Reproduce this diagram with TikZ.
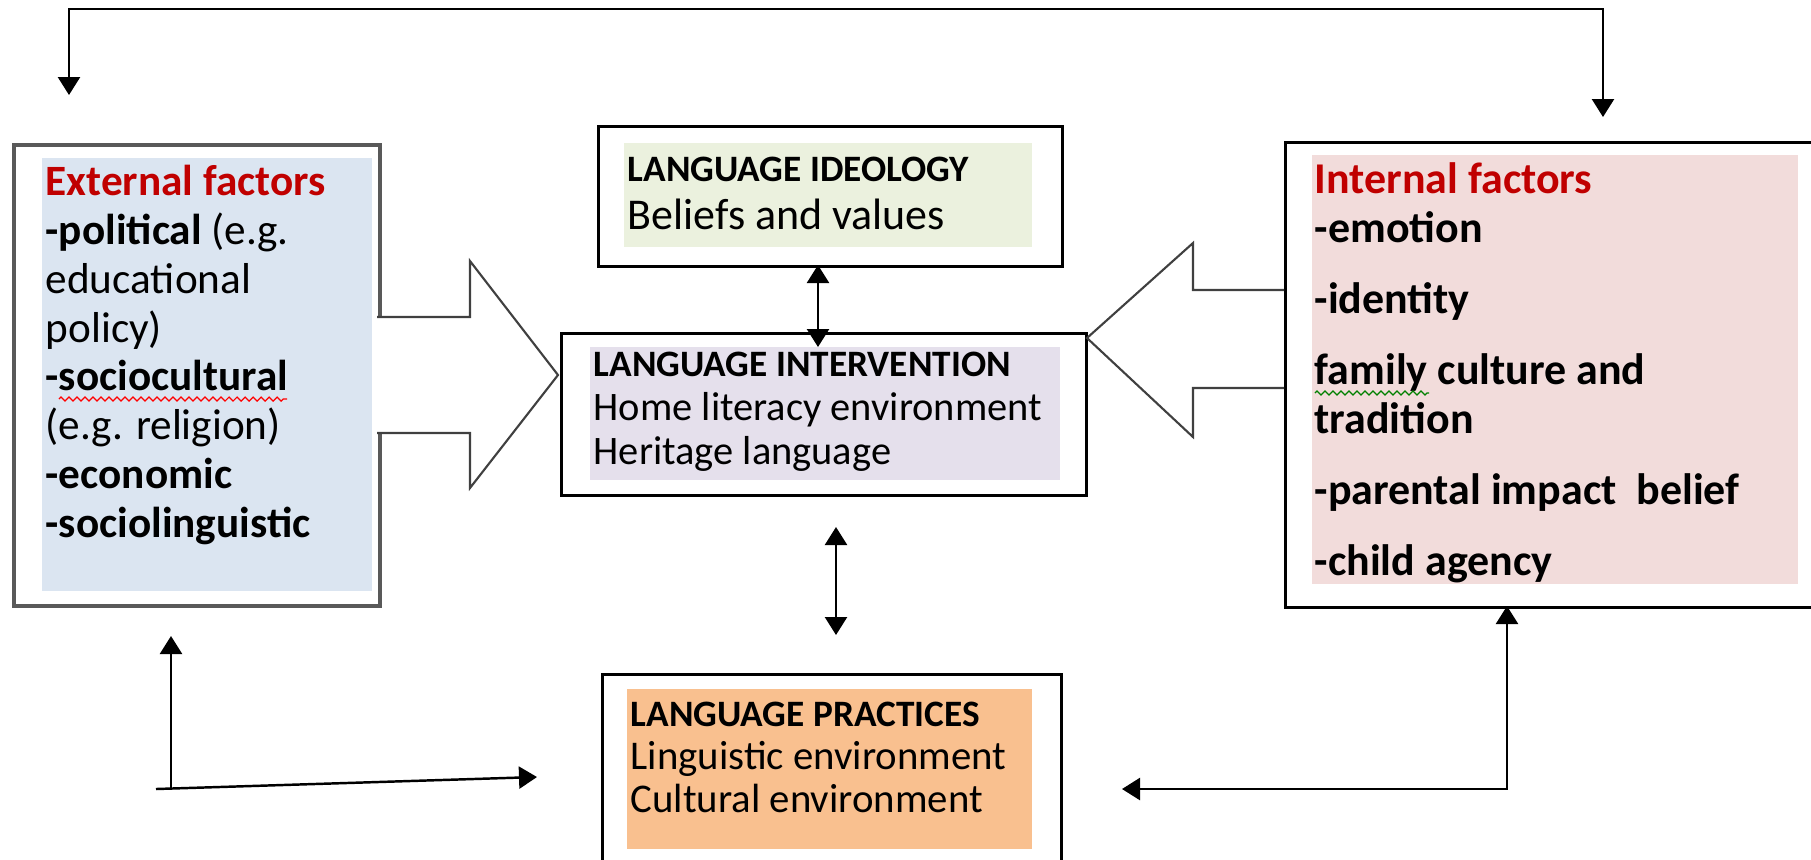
\documentclass[tikz,border=0pt]{standalone}
\usepackage{fontspec}
\setmainfont{Carlito}
\usepackage{xcolor}
\usetikzlibrary{arrows.meta}
\usetikzlibrary{decorations.pathmorphing}
\definecolor{extblue}{HTML}{DBE5F1}
\definecolor{ideogreen}{HTML}{EBF1DE}
\definecolor{intervlilac}{HTML}{E5E0EC}
\definecolor{pracorange}{HTML}{F9C08F}
\definecolor{intpink}{HTML}{F2DCDB}
\definecolor{titlered}{HTML}{C00000}
\tikzset{
frame/.style={draw=black, line width=0.9pt, anchor=north west, inner sep=0pt},
shadebox/.style={anchor=north west, inner sep=0pt},
labeltext/.style={anchor=base west, align=left, inner sep=0pt},
blockarrow/.style={draw=black!75, line width=0.6pt, line join=miter},
linkboth/.style={line width=0.7pt, {Triangle[length=1.8mm,width=2.2mm]}-{Triangle[length=1.8mm,width=2.2mm]}},
linkone/.style={line width=0.7pt, -{Triangle[length=1.8mm,width=2.2mm]}},
spell/.style={line width=0.35pt, decorate, decoration={zigzag, segment length=0.08cm, amplitude=0.02cm}}
}

\begin{document}
\begin{tikzpicture}[x=0.01cm, y=-0.01cm]
\useasboundingbox (0,0) rectangle (1811,859);
\clip (0,0) rectangle (1811,859);

% Coordinates
\coordinate (top_left_end) at (69,95);
\coordinate (top_mid) at (836,9);
\coordinate (top_right_end) at (1603,117);
\coordinate (ideology_bottom) at (818,265);
\coordinate (intervention_top) at (818,347);
\coordinate (mid_top) at (836,527);
\coordinate (mid_bottom) at (836,635);
\coordinate (left_corner) at (171,789);
\coordinate (external_below) at (171,636);
\coordinate (left_start) at (156,789);
\coordinate (practices_left) at (537,777);
\coordinate (practices_right) at (1122,789);
\coordinate (internal_bottom) at (1507,606);

% Boxes
\node[frame, draw=black!65, line width=1pt, minimum width=3.66cm, minimum height=4.61cm] (external) at (12,143) {};
\node[shadebox, fill=extblue, minimum width=3.30cm, minimum height=4.33cm] (external_bg) at (41,157) {};

\node[frame, minimum width=4.64cm, minimum height=1.40cm] (ideology) at (597,125) {};
\node[shadebox, fill=ideogreen, minimum width=4.08cm, minimum height=1.04cm] (ideology_bg) at (623,142) {};

\node[frame, minimum width=5.25cm, minimum height=1.62cm] (intervention) at (560,332) {};
\node[shadebox, fill=intervlilac, minimum width=4.70cm, minimum height=1.33cm] (intervention_bg) at (589,346) {};

\node[frame, minimum width=4.59cm, minimum height=2.50cm] (practices) at (601,673) {};
\node[shadebox, fill=pracorange, minimum width=4.05cm, minimum height=1.60cm] (practices_bg) at (626,688) {};

\node[frame, minimum width=5.50cm, minimum height=4.65cm] (internal) at (1284,141) {};
\node[shadebox, fill=intpink, minimum width=4.86cm, minimum height=4.29cm] (internal_bg) at (1311,154) {};

% Block arrows
\fill[white] (374,317) -- (470,317) -- (470,261) -- (558,375) -- (470,488) -- (470,433) -- (374,433) -- cycle;
\draw[blockarrow] (377,317) -- (470,317) -- (470,261) -- (558,375) -- (470,488) -- (470,433) -- (377,433);
\draw[blockarrow] (1284,290) -- (1193,290) -- (1193,243) -- (1087,338) -- (1193,437) -- (1193,388) -- (1284,388);

% Texts (anchored at the baseline of the last line)
\node[labeltext, font={\fontsize{12.3}{13.86}\selectfont}] (external_txt) at (45,537)
{{\bfseries\color{titlered}External factors}\\\textbf{-political} (e.g.\\educational\\policy)\\\textbf{-sociocultural}\\(e.g. religion)\\\textbf{-economic}\\\textbf{-sociolinguistic}};
\node[labeltext, font={\fontsize{12.5}{13.4}\selectfont}] (ideology_txt) at (627,229)
{{\fontsize{10.6}{12}\selectfont\bfseries LANGUAGE IDEOLOGY}\\Beliefs and values};
\node[labeltext, font={\fontsize{11.5}{12.4}\selectfont}] (intervention_txt) at (593,464)
{{\fontsize{10.6}{12}\selectfont\bfseries LANGUAGE INTERVENTION}\\Home literacy environment\\Heritage language};
\node[labeltext, font={\fontsize{11.6}{12.2}\selectfont}] (practices_txt) at (630,812)
{{\fontsize{10.6}{12}\selectfont\bfseries LANGUAGE PRACTICES}\\Linguistic environment\\Cultural environment};
\node[labeltext, font={\fontsize{12.5}{13.9}\selectfont\bfseries}] (internal_txt) at (1314,575)
{{\color{titlered}Internal factors}\\-emotion\\[0.22cm]-identity\\[0.22cm]family culture and\\tradition\\[0.22cm]-parental impact \ belief\\[0.22cm]-child agency};

% Spelling marks
\draw[spell, red] (59,399) -- (287,399);
\draw[spell, green!50!black] (1315,393) -- (1429,393);

% Arrows
\draw[linkboth] (top_left_end) |- (top_mid) -| (top_right_end);
\draw[linkboth] (ideology_bottom) -- (intervention_top);
\draw[linkboth] (mid_top) -- (mid_bottom);
\draw[linkone] (left_corner) -- (external_below);
\draw[linkone] (left_start) -- (practices_left);
\draw[linkboth] (practices_right) -| (internal_bottom);

\end{tikzpicture}
\end{document}
